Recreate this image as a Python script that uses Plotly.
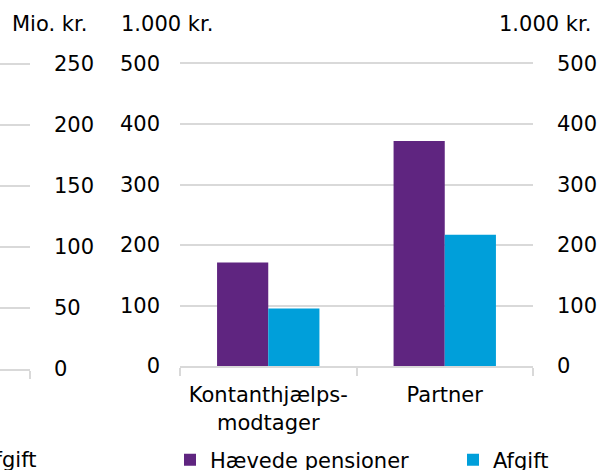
import plotly.graph_objects as go

categories = ["Kontanthjælps-<br>modtager", "Partner"]
haevede = [171, 372]
afgift = [95, 217]
left_ticks = [0, 50, 100, 150, 200, 250]
main_ticks = [0, 100, 200, 300, 400, 500]

PURPLE = "#5F2580"
BLUE = "#009FDA"
GRID = "#D9D9D9"
FONT = dict(family="DejaVu Sans", size=21, color="#000000")

W, H = 600, 470


def px_x(x):
    return x / W


def px_y(y):
    return 1 - y / H


fig = go.Figure()
fig.add_bar(x=categories, y=haevede, name="Hævede pensioner", marker_color=PURPLE,
            marker_line_width=0, xaxis="x", yaxis="y")
fig.add_bar(x=categories, y=afgift, name="Afgift", marker_color=BLUE,
            marker_line_width=0, xaxis="x", yaxis="y")
fig.add_scatter(x=categories, y=[None, None], xaxis="x", yaxis="y3",
                showlegend=False, hoverinfo="skip", mode="markers")
fig.add_scatter(x=[0.5], y=[None], xaxis="x2", yaxis="y2",
                showlegend=False, hoverinfo="skip", mode="markers")

# main axes: 0..500 spans y 366 -> 63.5 px; range extended slightly so the top grid line shows
top_main = 503
px_per_unit = (366 - 63.5) / 500
top_px_main = 366 - top_main * px_per_unit
top_left = 251.5
px_per_unit_l = (369 - 64) / 250
top_px_left = 369 - top_left * px_per_unit_l

fig.update_layout(
    width=W, height=H,
    margin=dict(l=0, r=0, t=0, b=0, autoexpand=False),
    paper_bgcolor="white", plot_bgcolor="white",
    font=FONT,
    barmode="group", bargap=0.42, bargroupgap=0,
    xaxis=dict(domain=[px_x(180), px_x(533)], anchor="y", type="category",
               showline=True, linecolor=GRID, linewidth=2,
               ticks="outside", tickson="boundaries", ticklen=8, tickcolor=GRID, tickwidth=2,
               showgrid=False, tickfont=FONT, ticklabelstandoff=9),
    yaxis=dict(domain=[px_y(366), px_y(top_px_main)], anchor="x", range=[0, top_main],
               tickvals=main_ticks, showgrid=True, gridcolor=GRID, gridwidth=2,
               zeroline=False, showline=False, ticks="", ticklabelstandoff=19,
               tickfont=FONT),
    yaxis3=dict(overlaying="y", side="right", anchor="x", range=[0, top_main],
                tickvals=main_ticks, showgrid=False, zeroline=False, showline=False,
                ticks="", ticklabelstandoff=23, tickfont=FONT),
    xaxis2=dict(domain=[0, px_x(30)], anchor="y2", range=[0, 1],
                showline=True, linecolor=GRID, linewidth=2,
                tickvals=[1], ticks="outside", ticklen=8, tickcolor=GRID, tickwidth=2,
                showticklabels=False, showgrid=False, zeroline=False),
    yaxis2=dict(domain=[px_y(369), px_y(top_px_left)], anchor="x2", side="right",
                range=[0, top_left],
                tickvals=left_ticks, showgrid=True, gridcolor=GRID, gridwidth=2,
                zeroline=False, showline=False, ticks="", ticklabelstandoff=23,
                tickfont=FONT),
    legend=dict(orientation="h", x=px_x(170), xanchor="left", y=px_y(460), yanchor="middle",
                font=FONT, entrywidth=238, bgcolor="rgba(0,0,0,0)"),
    showlegend=True,
    annotations=[
        dict(text="Mio. kr.", x=px_x(10), y=px_y(24), xref="paper", yref="paper",
             xanchor="left", yanchor="middle", showarrow=False, font=FONT),
        dict(text="1.000 kr.", x=px_x(119), y=px_y(24), xref="paper", yref="paper",
             xanchor="left", yanchor="middle", showarrow=False, font=FONT),
        dict(text="1.000 kr.", x=px_x(593), y=px_y(24), xref="paper", yref="paper",
             xanchor="right", yanchor="middle", showarrow=False, font=FONT),
        dict(text="Afgift", x=px_x(38), y=px_y(460), xref="paper", yref="paper",
             xanchor="right", yanchor="middle", showarrow=False, font=FONT),
    ],
)

fig.write_html("out.html", config={"displayModeBar": False},
               post_script="document.body.style.margin='0';document.body.style.overflow='hidden';")
